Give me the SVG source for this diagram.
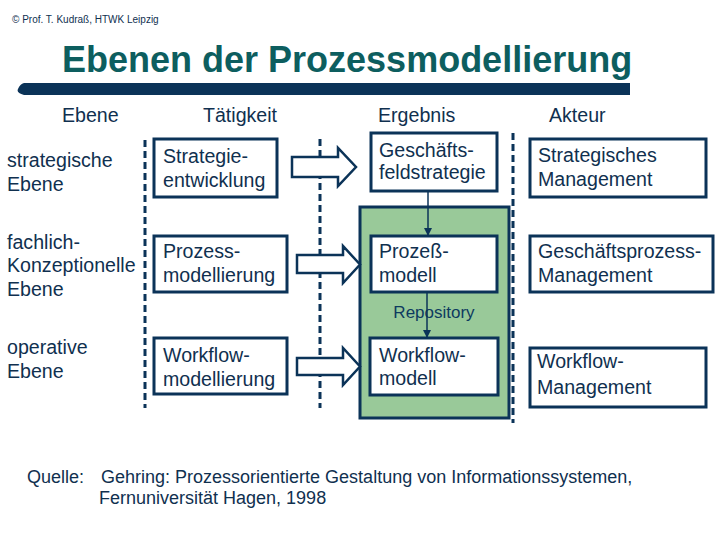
<svg xmlns="http://www.w3.org/2000/svg" width="720" height="540" viewBox="0 0 720 540">
<style>
  text { font-family: "Liberation Sans", Arial, sans-serif; fill: #10304f; }
  .t { font-size: 19.6px; }
  .h { font-size: 19.6px; }
  .src { font-size: 18px; }
  .box { fill: #ffffff; stroke: #0b3358; stroke-width: 3; }
  .dash { stroke: #0b3358; stroke-width: 3; stroke-dasharray: 7 4; fill: none; }
  .blk { fill: #ffffff; stroke: #0b3358; stroke-width: 2.5; stroke-linejoin: miter; }
  .thin { stroke: #0b3358; stroke-width: 1.5; fill: none; }
</style>
<defs>
  <marker id="ah" markerWidth="8" markerHeight="8" refX="7" refY="4" orient="auto" markerUnits="userSpaceOnUse">
    <path d="M0,0 L8,4 L0,8 Z" fill="#0b3358"/>
  </marker>
</defs>
<rect width="720" height="540" fill="#ffffff"/>

<g id="header">
  <text x="12" y="23" style="font-size:10px">© Prof. T. Kudraß, HTWK Leipzig</text>
  <text x="62" y="72" style="font-size:36px;font-weight:bold;fill:#0d5e5f">Ebenen der Prozessmodellierung</text>
  <path d="M24,83 L630,83 L630,95 L24,95 Q16,93 18,89 Q20,84 24,83 Z" fill="#0b3358"/>
</g>

<g id="column-headers">
  <text class="h" x="62" y="122">Ebene</text>
  <text class="h" x="203" y="122">Tätigkeit</text>
  <text class="h" x="378" y="122">Ergebnis</text>
  <text class="h" x="549" y="122">Akteur</text>
</g>

<g id="level-labels">
  <text class="t" x="7" y="167">strategische</text>
  <text class="t" x="7" y="191">Ebene</text>
  <text class="t" x="7" y="249">fachlich-</text>
  <text class="t" x="7" y="272">Konzeptionelle</text>
  <text class="t" x="7" y="296">Ebene</text>
  <text class="t" x="7" y="354">operative</text>
  <text class="t" x="7" y="378">Ebene</text>
</g>

<g id="separators">
  <line class="dash" x1="145" y1="140" x2="145" y2="408"/>
  <line class="dash" x1="320" y1="139" x2="320" y2="408"/>
  <line class="dash" x1="513" y1="133" x2="513" y2="423"/>
</g>

<g id="repository">
  <rect x="360" y="207" width="149" height="211" fill="#99c999" stroke="#0b3358" stroke-width="3"/>
  <text x="434" y="318" text-anchor="middle" style="font-size:17px;fill:#0d3a5f">Repository</text>
</g>

<g id="strategieentwicklung">
  <rect class="box" x="154" y="139" width="123" height="58"/>
  <text class="t" x="163" y="163">Strategie-</text>
  <text class="t" x="163" y="187">entwicklung</text>
</g>
<g id="prozessmodellierung">
  <rect class="box" x="154" y="236" width="133" height="56"/>
  <text class="t" x="163" y="258">Prozess-</text>
  <text class="t" x="163" y="282">modellierung</text>
</g>
<g id="workflowmodellierung">
  <rect class="box" x="154" y="338" width="133" height="56"/>
  <text class="t" x="163" y="362">Workflow-</text>
  <text class="t" x="163" y="386">modellierung</text>
</g>

<g id="geschaeftsfeldstrategie">
  <rect class="box" x="371" y="133" width="126" height="58"/>
  <text class="t" x="379" y="157">Geschäfts-</text>
  <text class="t" x="379" y="179">feldstrategie</text>
</g>
<g id="prozessmodell">
  <rect class="box" x="371" y="236" width="126" height="56"/>
  <text class="t" x="379" y="258">Prozeß-</text>
  <text class="t" x="379" y="282">modell</text>
</g>
<g id="workflowmodell">
  <rect class="box" x="370" y="338" width="128" height="57"/>
  <text class="t" x="379" y="362">Workflow-</text>
  <text class="t" x="379" y="385">modell</text>
</g>

<g id="strategisches-management">
  <rect class="box" x="530" y="139" width="176" height="58"/>
  <text class="t" x="538" y="162">Strategisches</text>
  <text class="t" x="538" y="186">Management</text>
</g>
<g id="geschaeftsprozess-management">
  <rect class="box" x="530" y="236" width="183" height="56"/>
  <text class="t" x="538" y="258">Geschäftsprozess-</text>
  <text class="t" x="538" y="282">Management</text>
</g>
<g id="workflow-management">
  <rect class="box" x="530" y="348" width="176" height="59"/>
  <text class="t" x="537" y="368">Workflow-</text>
  <text class="t" x="537" y="394">Management</text>
</g>

<g id="connectors">
  <path class="blk" d="M292,157 L338,157 L338,148 L356,167 L338,186 L338,177 L292,177 Z"/>
  <path class="blk" d="M297,255 L343,255 L343,246 L360,264.5 L343,283 L343,273 L297,273 Z"/>
  <path class="blk" d="M297,358 L343,358 L343,348 L360,366.5 L343,385 L343,375 L297,375 Z"/>
  <line class="thin" x1="428" y1="191" x2="428" y2="235" marker-end="url(#ah)"/>
  <line class="thin" x1="427" y1="292" x2="427" y2="337" marker-end="url(#ah)"/>
</g>

<g id="source">
  <text class="src" x="27" y="483">Quelle:</text>
  <text class="src" x="101" y="483">Gehring: Prozessorientierte Gestaltung von Informationssystemen,</text>
  <text class="src" x="99" y="504">Fernuniversität Hagen, 1998</text>
</g>
</svg>
